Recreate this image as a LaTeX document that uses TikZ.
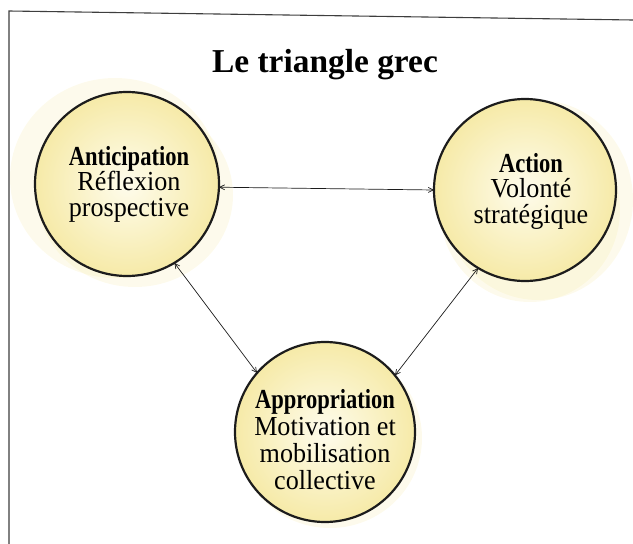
\documentclass[tikz,border=0pt]{standalone}
\usepackage{fontspec}
\setmainfont{Liberation Serif}
\newfontfamily\narrowserif[FakeStretch=0.95]{Liberation Serif}
\newfontfamily\headserif[FakeStretch=0.82]{Liberation Serif}
\usetikzlibrary{arrows.meta}

\definecolor{wash}{RGB}{246,234,168}
\definecolor{washlight}{RGB}{254,252,236}
\definecolor{ink}{RGB}{28,28,28}

\tikzset{
  x=1pt, y=-1pt,
  pole/.style={circle, draw=ink, line width=2.2pt, minimum size=#1,
    inner sep=0pt, outer sep=0pt},
  poletext/.style={align=center, inner sep=0pt,
    font=\narrowserif\fontsize{27.5}{#1}\selectfont},
  poletext/.default=25.5,
  link/.style={draw=ink, line width=0.7pt,
    {Straight Barb[length=5pt,width=5pt]}-{Straight Barb[length=5pt,width=5pt]}},
  spill/.style={fill=wash, opacity=0.22},
  frameline/.style={draw=ink!85, line width=1.1pt}
}

\begin{document}
\begin{tikzpicture}
  \useasboundingbox (0,0) rectangle (633,544);

  % open frame: top and left edges
  \coordinate (fl) at (9,544);
  \coordinate (fc) at (9,11);
  \coordinate (fr) at (633,20);
  \draw[frameline] (fl) -- (fc) -- (fr);

  % title
  \node[anchor=base, font=\bfseries\fontsize{33.4}{36}\selectfont] (title) at (325,72) {Le triangle grec};

  % watercolour washes behind the circles
  \fill[spill] (115,178) ellipse [x radius=105, y radius=100];
  \fill[spill] (135,195) ellipse [x radius=98, y radius=92];
  \fill[spill] (538,200) ellipse [x radius=95, y radius=100];
  \fill[spill] (530,210) ellipse [x radius=90, y radius=92];
  \fill[spill] (330,438) ellipse [x radius=92, y radius=90];
  \shade[inner color=washlight, outer color=wash] (127,184) circle [radius=92];
  \shade[inner color=washlight, outer color=wash] (525,190) circle [radius=91];
  \shade[inner color=washlight, outer color=wash] (325,432) circle [radius=90];

  % the three poles
  \node[pole=184pt] (ant) at (127,184) {};
  \node[pole=182pt] (act) at (525,190) {};
  \node[pole=180pt] (app) at (325,432) {};

  % their texts
  \node[poletext] (anttext) at ([xshift=2pt]ant)
    {{\headserif\bfseries Anticipation}\\R\'eflexion\\prospective};
  \node[poletext] (acttext) at ([xshift=6pt,yshift=-1pt]act)
    {{\headserif\bfseries Action}\\Volont\'e\\strat\'egique};
  \node[poletext=27] (apptext) at ([yshift=-8pt]app)
    {{\headserif\bfseries Appropriation}\\Motivation et\\mobilisation\\collective};

  % links between the poles
  \draw[link] (ant.-2) -- (act.180);
  \draw[link] (ant.-59) -- (app.139);
  \draw[link] (act.-121) -- (app.39);
\end{tikzpicture}
\end{document}
